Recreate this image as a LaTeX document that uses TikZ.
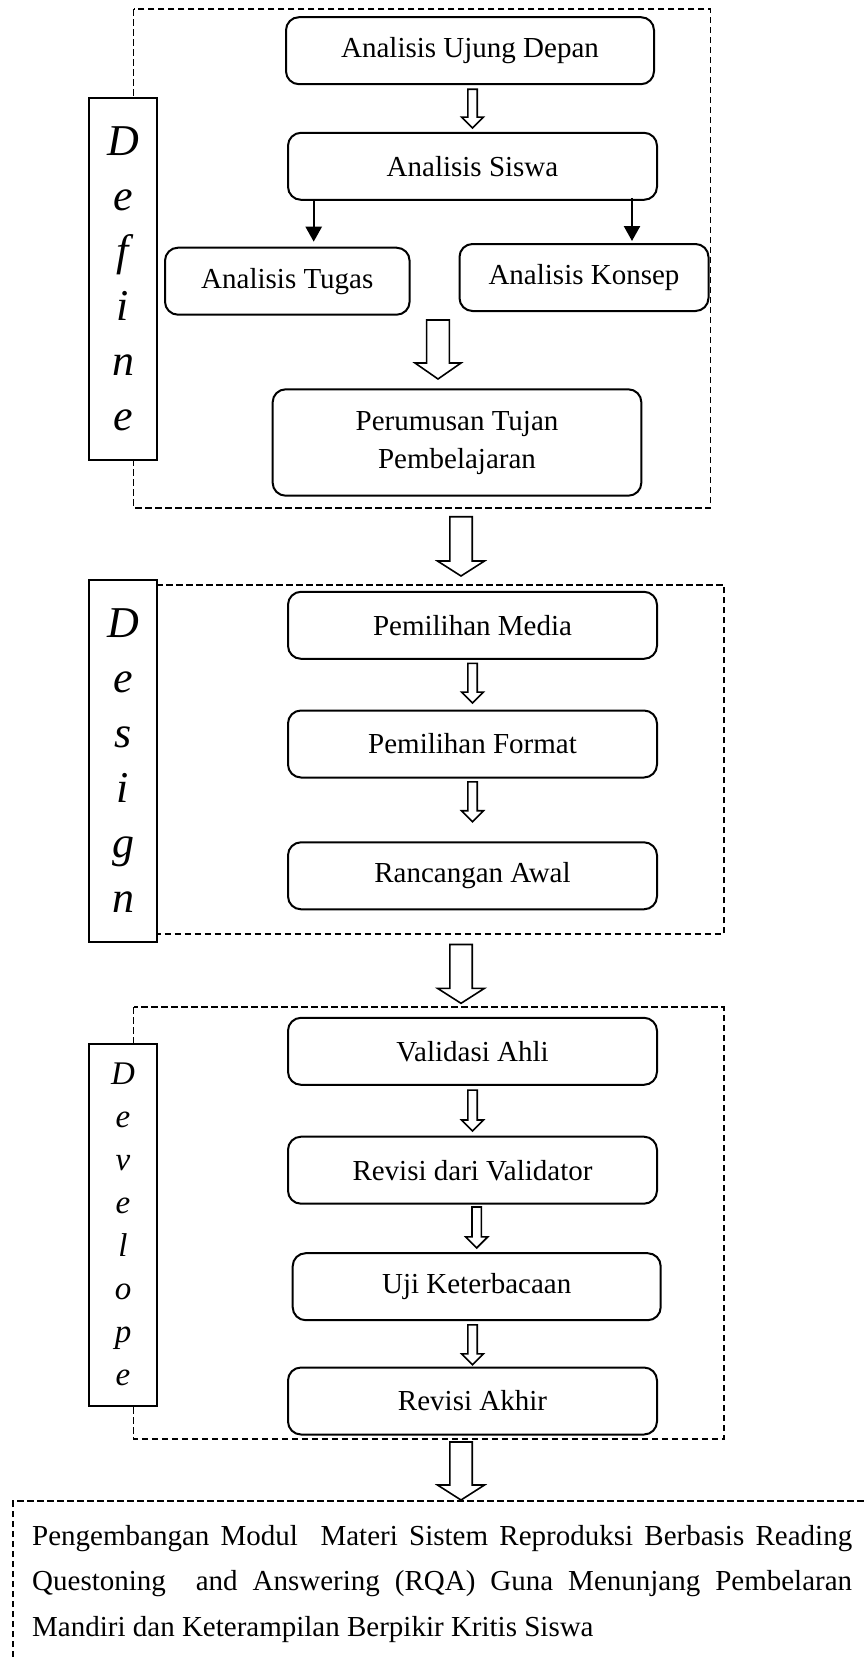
\documentclass[tikz,border=0pt]{standalone}
\usepackage{fontspec}
\setmainfont{Liberation Serif}
\usetikzlibrary{arrows.meta,calc}

% panah berongga: awal, ujung, setengah lebar batang, setengah lebar kepala, panjang kepala
\newcommand{\hollowarrow}[5]{%
  \draw[fatarrow] let \p1=#1, \p2=#2 in
    (\x2-#3,\y1) -- (\x2+#3,\y1) -- (\x2+#3,\y2+#5) -- (\x2+#4,\y2+#5)
    -- (\x2,\y2) -- (\x2-#4,\y2+#5) -- (\x2-#3,\y2+#5) -- cycle;}

\tikzset{
  stepbox/.style={draw, line width=2pt, rounded corners=13pt, align=center, inner sep=0pt,
    minimum width=369pt, minimum height=67pt, font=\fontsize{29}{38}\selectfont},
  phasebox/.style={line width=1.7pt, dash pattern=on 6.5pt off 3.5pt},
  phaselabel/.style={draw, fill=white, line width=2.2pt, minimum width=68pt,
    minimum height=362pt, inner sep=0pt, align=center},
  fatarrow/.style={draw, fill=white, line width=1.6pt, line join=miter},
  thinarrow/.style={->, line width=2.4pt},
}

\begin{document}
\begin{tikzpicture}[x=1pt,y=-1pt,>={Triangle[length=15pt,width=16pt]}]
  \useasboundingbox (0,0) rectangle (865,1657);

  % tahap define
  \draw[phasebox] (133.6,9.3) rectangle (710.6,507.7);
  \node[phaselabel,font=\fontsize{44}{55}\selectfont\itshape] (deflabel) at (123,279) {D\\e\\f\\i\\n\\e};
  \node[stepbox,minimum width=368pt] (ujung) at (470,50.7) {Analisis Ujung Depan};
  \node[stepbox] (siswa) at (472.5,166.3) {Analisis Siswa};
  \node[stepbox,minimum width=244.6pt] (tugas) at (287.3,281.2) {Analisis Tugas};
  \node[stepbox,minimum width=249pt] (konsep) at (584,277.5) {Analisis Konsep};
  \node[stepbox,minimum width=368.7pt,minimum height=106.4pt] (tujuan) at (457,442.5) {Perumusan Tujan\\Pembelajaran};
  \hollowarrow{($(ujung.south)+(0,4)$)}{($(siswa.north)+(0,-3.7)$)}{4.7}{11}{11}
  \draw[thinarrow,shorten >=5pt] ([xshift=-158.8pt]siswa.south) -- ([xshift=26.4pt]tugas.north);
  \draw[thinarrow,shorten >=2pt] ([xshift=159.5pt,yshift=3pt]siswa.south) -- ([xshift=48pt]konsep.north);
  \coordinate (a0) at (438,320);
  \coordinate (a1) at (438,379);
  \hollowarrow{(a0)}{(a1)}{11.4}{23}{16}

  \coordinate (d0) at (461,516.7);
  \coordinate (d1) at (461,576);
  \hollowarrow{(d0)}{(d1)}{11.2}{23.5}{15}

  % tahap design
  \draw[phasebox] (134,584.7) rectangle (724,934);
  \node[phaselabel,font=\fontsize{44}{55}\selectfont\itshape] (deslabel) at (123,761) {D\\e\\s\\i\\g\\n};
  \node[stepbox] (media) at (472.5,625.3) {Pemilihan Media};
  \node[stepbox] (format) at (472.5,744) {Pemilihan Format};
  \node[stepbox] (awal) at (472.5,875.8) {Rancangan Awal};
  \hollowarrow{($(media.south)+(0,3.6)$)}{($(format.north)+(0,-6.4)$)}{4.7}{11}{11}
  \hollowarrow{($(format.south)+(0,3.4)$)}{($(awal.north)+(0,-19.6)$)}{4.7}{11}{11}

  \coordinate (g0) at (461,944.5);
  \coordinate (g1) at (461,1003.3);
  \hollowarrow{(g0)}{(g1)}{11.2}{23.5}{15}

  % tahap develope
  \draw[phasebox] (133.6,1007.3) rectangle (724,1439);
  \node[phaselabel,font=\fontsize{33}{43}\selectfont\itshape] (devlabel) at (123,1224.7) {D\\e\\v\\e\\l\\o\\p\\e};
  \node[stepbox] (validasi) at (472.5,1051.3) {Validasi Ahli};
  \node[stepbox] (revisi) at (472.5,1170.2) {Revisi dari Validator};
  \node[stepbox,minimum width=368pt] (uji) at (476.7,1286.7) {Uji Keterbacaan};
  \node[stepbox] (akhir) at (472.5,1401) {Revisi Akhir};
  \hollowarrow{($(validasi.south)+(0,4.3)$)}{($(revisi.north)+(0,-4.7)$)}{4.7}{11}{11}
  \hollowarrow{($(revisi.south)+(0,2.3)$)}{($(uji.north)+(0,-4.3)$)}{4.7}{11}{11}
  \hollowarrow{($(uji.south)+(0,3.7)$)}{($(akhir.north)+(0,-1.7)$)}{4.7}{11}{11}

  \coordinate (v0) at (461,1442);
  \coordinate (v1) at (461,1500);
  \hollowarrow{(v0)}{(v1)}{11.2}{23.5}{15}

  % hasil akhir
  \draw[phasebox] (13,1657) -- (13,1501) -- (865,1501);
  \node[anchor=north west,text width=820pt,align=justify,inner sep=0pt,
    font=\fontsize{29}{45.5}\selectfont] (hasil) at (32,1525)
    {Pengembangan Modul\ \ Materi Sistem Reproduksi Berbasis Reading\linebreak
     Questoning\ \ and Answering (RQA) Guna Menunjang Pembelaran\linebreak
     Mandiri dan Keterampilan Berpikir Kritis Siswa};
\end{tikzpicture}
\end{document}
